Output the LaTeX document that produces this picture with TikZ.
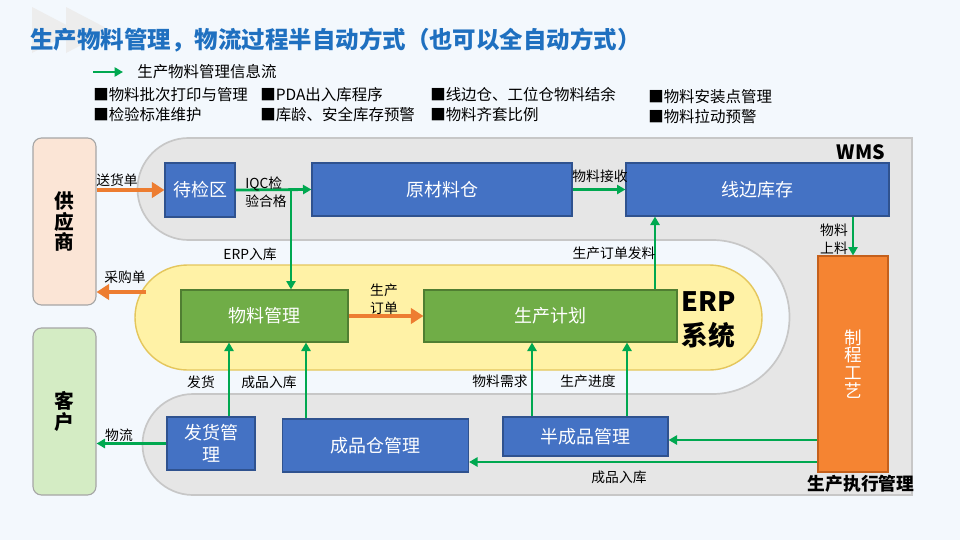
\documentclass[tikz,border=0pt]{standalone}
\usepackage{fontspec}
\setmainfont{Noto Sans CJK SC}
\usetikzlibrary{arrows.meta}

\definecolor{bgblue}{RGB}{243,248,253}
\definecolor{titleblue}{RGB}{31,112,192}
\definecolor{boxblue}{RGB}{68,114,196}
\definecolor{boxblueline}{RGB}{47,82,143}
\definecolor{boxgreen}{RGB}{112,173,71}
\definecolor{boxgreenline}{RGB}{80,126,50}
\definecolor{boxorange}{RGB}{245,132,50}
\definecolor{boxorangeline}{RGB}{196,96,28}
\definecolor{flowgreen}{RGB}{0,168,80}
\definecolor{orderorange}{RGB}{237,125,49}
\definecolor{wmsgray}{RGB}{230,230,230}
\definecolor{erpyellow}{RGB}{255,242,166}
\definecolor{erpline}{RGB}{228,198,92}
\definecolor{suppeach}{RGB}{251,229,214}
\definecolor{custgreen}{RGB}{212,236,196}

\newcommand{\pxu}{0.025cm}

\tikzset{
  every node/.style={inner sep=0pt},
  sz/.style 2 args={minimum width=#1*\pxu, minimum height=#2*\pxu},
  box/.style={draw, line width=0.8pt, text=white, align=center,
    font=\fontsize{12.8}{15.6}\selectfont},
  bluebox/.style={box, fill=boxblue, draw=boxblueline},
  greenbox/.style={box, fill=boxgreen, draw=boxgreenline},
  orangebox/.style={box, fill=boxorange, draw=boxorangeline,
    font=\fontsize{12.5}{12.7}\selectfont},
  sidebox/.style={draw=black!35, line width=0.8pt, rounded corners=6pt,
    align=center, font=\fontsize{14}{14.5}\selectfont\bfseries},
  wmszone/.style={fill=wmsgray, draw=black!22, line width=1.2pt},
  erpzone/.style={fill=erpyellow, draw=erpline, line width=1pt},
  flow/.style={draw=flowgreen, line width=2pt,
    -{Triangle[length=6pt,width=6.5pt]}},
  order/.style={draw=orderorange, line width=3.5pt,
    -{Triangle[length=9pt,width=11pt]}},
  lbl/.style={font=\fontsize{9.8}{12.5}\selectfont, align=center},
  bullet/.style={anchor=west, font=\fontsize{11}{13}\selectfont},
}

\begin{document}
\begin{tikzpicture}[x=0.025cm, y=-0.025cm]
  \useasboundingbox (0,0) rectangle (960,540);
  \fill[bgblue] (0,0) rectangle (960,540);
  % corner marks
  \fill[black!7] (32,7) -- (76,30) -- (32,53) -- cycle;
  \fill[black!7] (66,7) -- (110,30) -- (66,53) -- cycle;

  % title and legend
  \node[anchor=west, text=titleblue, font=\fontsize{16.7}{20}\selectfont\bfseries] (title) at (30,40)
    {生产物料管理，物流过程半自动方式（也可以全自动方式）};
  \coordinate (lgs) at (93,72);
  \coordinate (lge) at (123,72);
  \draw[flow] (lgs) -- (lge);
  \node[bullet] (lgtext) at (137,72) {生产物料管理信息流};
  \node[bullet] (b1) at (93,95) {■物料批次打印与管理};
  \node[bullet] (b2) at (93,115) {■检验标准维护};
  \node[bullet] (b3) at (260,95) {■PDA出入库程序};
  \node[bullet] (b4) at (260,115) {■库龄、安全库存预警};
  \node[bullet] (b5) at (430,95) {■线边仓、工位仓物料结余};
  \node[bullet] (b6) at (430,115) {■物料齐套比例};
  \node[bullet] (b7) at (648,97) {■物料安装点管理};
  \node[bullet] (b8) at (648,117) {■物料拉动预警};

  % WMS zone
  \draw[wmszone] (188.5,138) -- (912,138) -- (912,495) -- (193,495)
    arc[start angle=270, end angle=90, radius=50.5*\pxu] -- (712.5,394)
    arc[start angle=-90, end angle=90, radius=77*\pxu] -- (188.5,240)
    arc[start angle=270, end angle=90, radius=51*\pxu] -- cycle;
  % ERP zone
  \draw[erpzone] (187.5,265) -- (709.5,265)
    arc[start angle=90, end angle=-90, radius=52.5*\pxu] -- (187.5,370)
    arc[start angle=270, end angle=90, radius=52.5*\pxu] -- cycle;

  \node[font=\fontsize{14}{16}\selectfont\bfseries] (wms) at (861,152) {WMS};
  \node[anchor=west, align=left, font=\fontsize{19}{24}\selectfont\bfseries] (erp) at (681,320) {ERP\\系统};
  \node[font=\fontsize{12.6}{15}\selectfont\bfseries] (mes) at (861,484) {生产执行管理};

  % side boxes
  \node[sidebox, fill=suppeach, sz={63}{167}] (gys) at (64.5,221.5) {供\\应\\商};
  \node[sidebox, fill=custgreen, sz={63}{167}] (kh) at (64.5,411.5) {客\\户};

  % boxes
  \node[bluebox, sz={70}{54}] (djq) at (200,190) {待检区};
  \node[bluebox, sz={260}{53}] (ycl) at (442,189.5) {原材料仓};
  \node[bluebox, sz={263}{53}] (xbkc) at (757.5,189.5) {线边库存};
  \node[greenbox, sz={167}{52}] (wlgl) at (264.5,316) {物料管理};
  \node[greenbox, sz={253}{52}] (scjh) at (550.5,316) {生产计划};
  \node[bluebox, sz={88}{53}] (fhgl) at (211,443.5) {发货管\\理};
  \node[bluebox, sz={186}{53}] (cpc) at (375.5,445.5) {成品仓管理};
  \node[bluebox, sz={165}{39}] (bcp) at (585.5,436.5) {半成品管理};
  \node[orangebox, sz={70}{216}] (zcgy) at (853,364) {制\\程\\工\\艺};

  % orange links
  \draw[order] (djq.west -| gys.east) -- (djq.west);
  \coordinate (cgd) at (146,292);
  \draw[order] (cgd) -- (cgd -| gys.east);
  \draw[order] (wlgl.east) -- (scjh.west);

  % green links
  \draw[flow] (djq.east) -- (ycl.west);
  \coordinate (iqc) at (291,190);
  \draw[flow] (iqc) -- (iqc |- wlgl.north);
  \draw[flow] (ycl.east) -- (xbkc.west);
  \draw[flow] (655,0 |- scjh.north) -- (655,0 |- xbkc.south);
  \draw[flow] (853,0 |- xbkc.south) -- (853,0 |- zcgy.north);
  \draw[flow] (229,0 |- fhgl.north) -- (229,0 |- wlgl.south);
  \draw[flow] (306,0 |- cpc.north) -- (306,0 |- wlgl.south);
  \draw[flow] (fhgl.west) -- (fhgl.west -| kh.east);
  \draw[flow] (532,0 |- bcp.north) -- (532,0 |- scjh.south);
  \draw[flow] (627,0 |- bcp.north) -- (627,0 |- scjh.south);
  \draw[flow] (zcgy.west |- 0,440) -- (bcp.east |- 0,440);
  \draw[flow] (zcgy.west |- 0,462) -- (cpc.east |- 0,462);

  % labels
  \node[lbl] (l1) at (117,180) {送货单};
  \node[lbl] (l2) at (125,277) {采购单};
  \node[lbl, anchor=west, align=left] (l3) at (245,192) {IQC检\\验合格};
  \node[lbl] (l4) at (250,254) {ERP入库};
  \node[lbl] (l5) at (384,299) {生产\\订单};
  \node[lbl] (l6) at (600,176) {物料接收};
  \node[lbl] (l7) at (614,253) {生产订单发料};
  \node[lbl] (l8) at (834,239) {物料\\上料};
  \node[lbl] (l9) at (201,382) {发货};
  \node[lbl] (l10) at (269,382) {成品入库};
  \node[lbl] (l11) at (119,435) {物流};
  \node[lbl] (l12) at (500,381) {物料需求};
  \node[lbl] (l13) at (588,381) {生产进度};
  \node[lbl] (l14) at (619,477) {成品入库};
\end{tikzpicture}
\end{document}
